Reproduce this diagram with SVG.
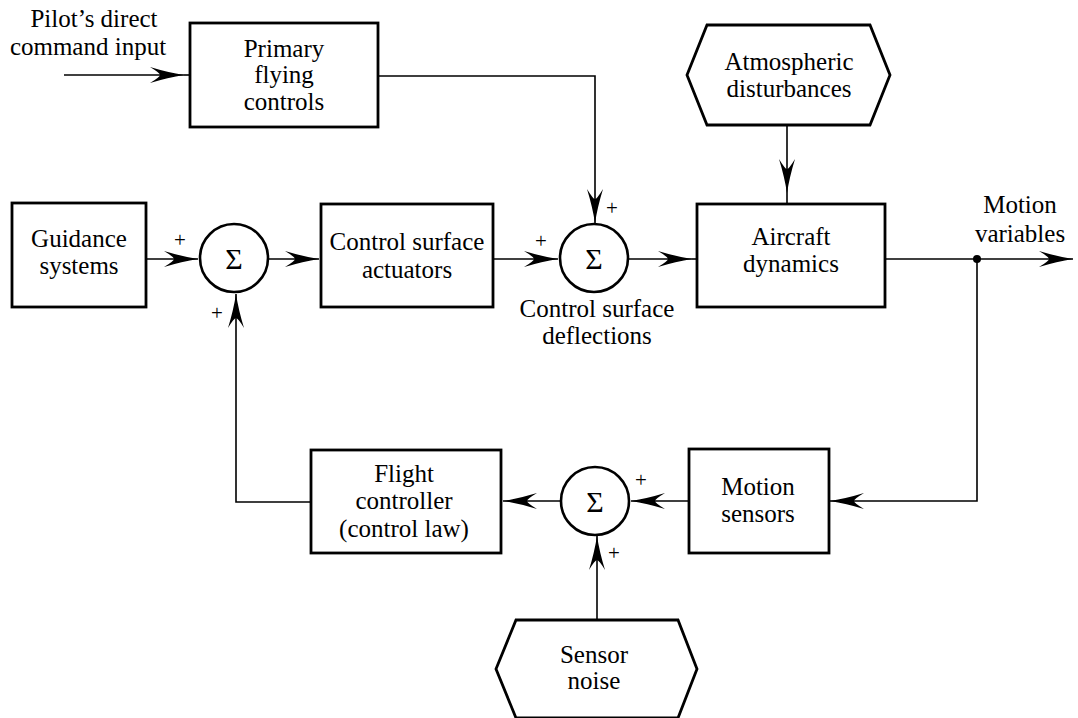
<svg xmlns="http://www.w3.org/2000/svg" width="1078" height="718" viewBox="0 0 1078 718">
<style>
.box{fill:#fff;stroke:#000;stroke-width:2.8}
.sum{fill:#fff;stroke:#000;stroke-width:2.6}
.ln{fill:none;stroke:#000;stroke-width:1.6}
.t{font-family:"Liberation Serif","Times New Roman",serif;font-size:25px;fill:#000;text-anchor:middle}
.sig{font-family:"Liberation Serif","Times New Roman",serif;font-size:30px;fill:#000;text-anchor:middle}
.pl{font-family:"Liberation Serif","Times New Roman",serif;font-size:21px;fill:#000;text-anchor:middle}
</style>
<defs>
<marker id="ah" markerUnits="userSpaceOnUse" viewBox="-36 -10 38 20" markerWidth="38" markerHeight="20" refX="0" refY="0" orient="auto">
<path d="M0,0 Q-16,-2.5 -34,-8 Q-24,-2 -24,0 Q-24,2 -34,8 Q-16,2.5 0,0 Z" fill="#000"/>
</marker>
</defs>
<rect width="1078" height="718" fill="#fff"/>

<g id="connectors">
<path class="ln" d="M64,75 H184" marker-end="url(#ah)"/>
<path class="ln" d="M184,75 H190"/>
<path class="ln" d="M378,76 H595 V223" marker-end="url(#ah)"/>
<path class="ln" d="M146,259 H198" marker-end="url(#ah)"/>
<path class="ln" d="M268,259 H319" marker-end="url(#ah)"/>
<path class="ln" d="M493,259 H558" marker-end="url(#ah)"/>
<path class="ln" d="M628,259 H692" marker-end="url(#ah)"/>
<path class="ln" d="M692,259 H697"/>
<path class="ln" d="M787,125 V193" marker-end="url(#ah)"/>
<path class="ln" d="M787,193 V204"/>
<path class="ln" d="M885,259 H1073" marker-end="url(#ah)"/>
<circle cx="977" cy="259" r="4" fill="#000"/>
<path class="ln" d="M977,259 V501 H830" marker-end="url(#ah)"/>
<path class="ln" d="M689,501 H631" marker-end="url(#ah)"/>
<path class="ln" d="M561,501 H503" marker-end="url(#ah)"/>
<path class="ln" d="M311,502 H236 V294" marker-end="url(#ah)"/>
<path class="ln" d="M597,620 V536" marker-end="url(#ah)"/>
</g>

<g id="pilot-input">
<text class="t" x="94" y="27">Pilot’s direct</text>
<text class="t" x="88" y="55">command input</text>
</g>

<g id="primary-flying-controls">
<rect class="box" x="190" y="23" width="188" height="104"/>
<text class="t" x="284" y="57">Primary</text>
<text class="t" x="284" y="83">flying</text>
<text class="t" x="284" y="110">controls</text>
</g>

<g id="atmospheric-disturbances">
<polygon class="box" points="687,75 707,25 870,25 890,75 870,125 707,125"/>
<text class="t" x="789" y="70">Atmospheric</text>
<text class="t" x="789" y="97">disturbances</text>
</g>

<g id="guidance-systems">
<rect class="box" x="12" y="203" width="134" height="104"/>
<text class="t" x="79" y="247">Guidance</text>
<text class="t" x="79" y="274">systems</text>
</g>

<g id="sum1">
<circle class="sum" cx="234" cy="258" r="34"/>
<text class="sig" x="234" y="269">Σ</text>
<text class="pl" x="180" y="247">+</text>
<text class="pl" x="217" y="320">+</text>
</g>

<g id="control-surface-actuators">
<rect class="box" x="321" y="204" width="172" height="103"/>
<text class="t" x="407" y="250">Control surface</text>
<text class="t" x="407" y="278">actuators</text>
</g>

<g id="sum2">
<circle class="sum" cx="594" cy="258" r="34"/>
<text class="sig" x="594" y="269">Σ</text>
<text class="pl" x="612" y="215">+</text>
<text class="pl" x="541" y="248">+</text>
<text class="t" x="597" y="317">Control surface</text>
<text class="t" x="597" y="344">deflections</text>
</g>

<g id="aircraft-dynamics">
<rect class="box" x="697" y="204" width="188" height="103"/>
<text class="t" x="791" y="245">Aircraft</text>
<text class="t" x="791" y="272">dynamics</text>
</g>

<g id="motion-variables">
<text class="t" x="1020" y="213">Motion</text>
<text class="t" x="1020" y="242">variables</text>
</g>

<g id="motion-sensors">
<rect class="box" x="689" y="449" width="140" height="104"/>
<text class="t" x="758" y="495">Motion</text>
<text class="t" x="758" y="522">sensors</text>
</g>

<g id="sum3">
<circle class="sum" cx="595" cy="501" r="34"/>
<text class="sig" x="595" y="512">Σ</text>
<text class="pl" x="641" y="487">+</text>
<text class="pl" x="614" y="560">+</text>
</g>

<g id="flight-controller">
<rect class="box" x="311" y="450" width="190" height="103"/>
<text class="t" x="404" y="482">Flight</text>
<text class="t" x="404" y="509">controller</text>
<text class="t" x="404" y="537">(control law)</text>
</g>

<g id="sensor-noise">
<polygon class="box" points="496,669 516,620 678,620 697,669 678,718 516,718"/>
<text class="t" x="594" y="663">Sensor</text>
<text class="t" x="594" y="689">noise</text>
</g>
</svg>
